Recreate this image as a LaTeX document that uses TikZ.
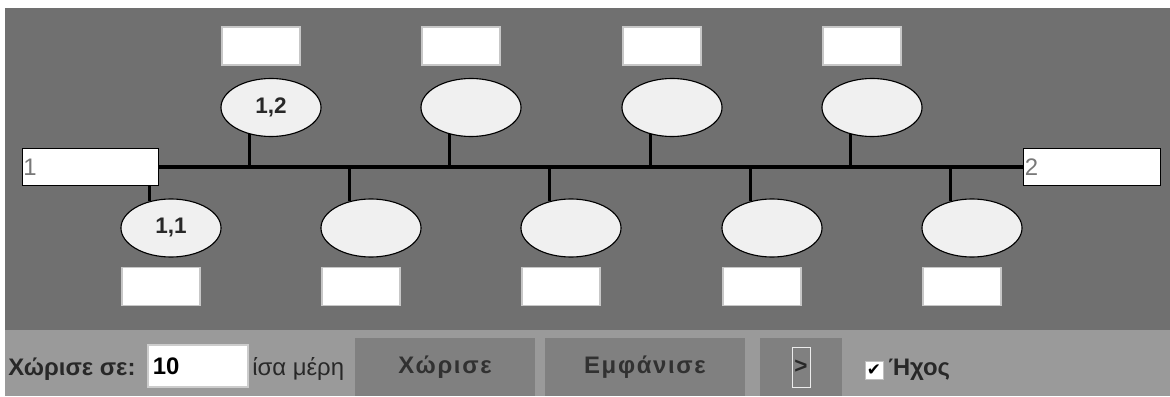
\documentclass[tikz,border=0pt]{standalone}
\usepackage{fontspec}
\setmainfont{Liberation Sans}
\newfontfamily\symb{DejaVu Sans}
\usepackage{tikz}
\usetikzlibrary{shapes.geometric,positioning}
\definecolor{Panel}{RGB}{112, 112, 112}
\definecolor{Bar}{RGB}{154, 154, 154}
\definecolor{Knob}{RGB}{128, 128, 128}
\definecolor{Oval}{RGB}{240, 240, 240}
\definecolor{Ink}{RGB}{40, 40, 40}
\definecolor{Faint}{RGB}{120, 120, 120}

\begin{document}
\begin{tikzpicture}[x=0.025cm, y=-0.025cm,
    oval/.style={ellipse, draw=black, fill=Oval, line width=0.8pt, inner sep=0pt,
        minimum width=2.5cm, minimum height=1.45cm,
        font=\fontsize{16}{18}\selectfont\bfseries, text=Ink},
    slot/.style={fill=white, draw=black!22, line width=0.8pt,
        minimum width=1.95cm, minimum height=0.95cm},
    endbox/.style={fill=white, draw=black, line width=1pt, inner sep=0.03cm,
        text width=3.35cm, minimum height=0.925cm, align=left,
        font=\fontsize{17}{18}\selectfont, text=Faint},
    spine/.style={line width=2.2pt, black},
    stem/.style={line width=2.2pt, black},
    caption/.style={font=\fontsize{17}{20}\selectfont\bfseries, text=Ink, inner sep=0pt},
    field/.style={fill=white, draw=black!20, line width=0.8pt, inner sep=0.12cm,
        text width=2.26cm, minimum height=1.05cm, align=left,
        font=\fontsize{17}{20}\selectfont\bfseries, text=black},
    knob/.style={fill=Knob, inner sep=0pt, minimum height=1.45cm,
        font=\fontsize{17}{20}\selectfont\bfseries\addfontfeature{LetterSpace=7}, text=Ink!90!Knob}]

    %%Background
    \fill[white] (0,0) rectangle (1170,396);
    \fill[Panel] (5,8) rectangle (1170,330);
    \fill[Bar] (5,330) rectangle (1170,396);

    %% End boxes and spine
    \node[endbox] (start) at (90.5,167) {1};
    \node[endbox] (finish) at (1092,167) {2};
    \draw[spine] (start.east) to (finish.west);

    %% Upper ovals
    \node[oval] (o2) at (271,107.5) {1,2};
    \node[oval] (o4) at (471,107.5) {};
    \node[oval] (o6) at (672,107.5) {};
    \node[oval] (o8) at (872,107.5) {};
    \node[slot] (s2) at (261,46) {};
    \node[slot] (s4) at (461,46) {};
    \node[slot] (s6) at (662,46) {};
    \node[slot] (s8) at (862,46) {};
    \draw[stem] (o2.231) to (o2.231 |- start.east);
    \draw[stem] (o4.231) to (o4.231 |- start.east);
    \draw[stem] (o6.231) to (o6.231 |- start.east);
    \draw[stem] (o8.231) to (o8.231 |- start.east);

    %% Lower ovals
    \node[oval] (o1) at (171,228) {1,1};
    \node[oval] (o3) at (371,228) {};
    \node[oval] (o5) at (571,228) {};
    \node[oval] (o7) at (772,228) {};
    \node[oval] (o9) at (972,228) {};
    \node[slot] (s1) at (161,286.5) {};
    \node[slot] (s3) at (361,286.5) {};
    \node[slot] (s5) at (561,286.5) {};
    \node[slot] (s7) at (762,286.5) {};
    \node[slot] (s9) at (962,286.5) {};
    \draw[stem] (o1.129) to (o1.129 |- start.south);
    \draw[stem] (o3.129) to (o3.129 |- start.east);
    \draw[stem] (o5.129) to (o5.129 |- start.east);
    \draw[stem] (o7.129) to (o7.129 |- start.east);
    \draw[stem] (o9.129) to (o9.129 |- start.east);

    %% Controls
    \node[caption, anchor=west] (split) at (8,369) {Χώρισε σε:};
    \node[field] (parts) at (198,366) {10};
    \node[caption, anchor=west, font=\fontsize{17}{20}\selectfont] (equal) at (252,369) {ίσα μέρη};
    \node[knob, minimum width=4.5cm] (divide) at (445,367) {Χώρισε};
    \node[knob, minimum width=5cm] (show) at (645,367) {Εμφάνισε};
    \node[knob, minimum width=2.05cm] (nextbtn) at (801,367) {};
    \node[draw=white!85!gray, line width=0.6pt, inner sep=0pt, minimum width=0.45cm,
        minimum height=1.0cm, font=\fontsize{16}{18}\selectfont\bfseries, text=Ink]
        (next) at (nextbtn) {>};
    \node[fill=white, draw=black!25, line width=0.6pt, inner sep=0pt,
        minimum size=0.45cm, font=\fontsize{12}{12}\selectfont\symb, text=black]
        (sound) at (874,370) {✔};
    \node[caption, right=0.12cm of sound] (soundtext) {Ήχος};

\end{tikzpicture}
\end{document}
